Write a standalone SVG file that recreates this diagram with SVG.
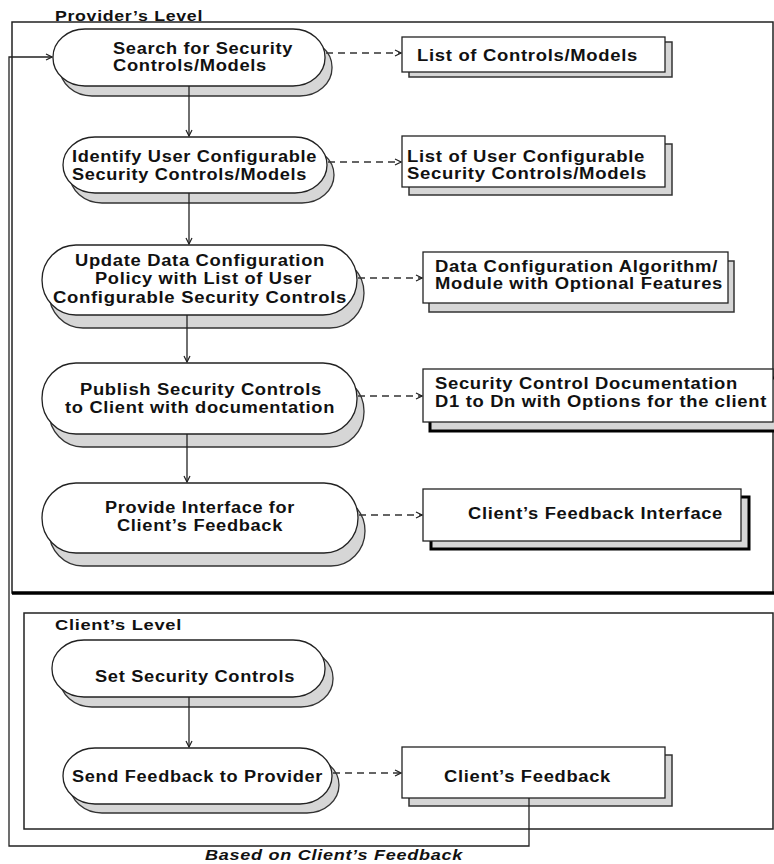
<svg xmlns="http://www.w3.org/2000/svg" width="774" height="864" viewBox="0 0 774 864">
<defs>
<style>
text{font-family:"Liberation Sans",Arial,sans-serif;font-weight:bold;font-size:16px;fill:#111;letter-spacing:0.6px}
.title{font-size:15.5px}
.cap{font-size:15.5px;font-style:italic}
.pill{fill:#fff;stroke:#222;stroke-width:1.3}
.pshadow{fill:#d6d6d6;stroke:#333;stroke-width:1.3}
.box{fill:#fff;stroke:#222;stroke-width:1.3}
.bshadow{fill:#d6d6d6;stroke:#333;stroke-width:1.5}
.bshadow2{fill:#d6d6d6;stroke:#000;stroke-width:3}
.solid{fill:none;stroke:#222;stroke-width:1.3;marker-end:url(#arr)}
.dash{fill:none;stroke:#333;stroke-width:1.3;stroke-dasharray:7,5;marker-end:url(#arr)}
.frame{fill:none;stroke:#222;stroke-width:1.5}
</style>
<marker id="arr" viewBox="0 0 8 8" refX="7" refY="4" markerWidth="8" markerHeight="8" markerUnits="userSpaceOnUse" orient="auto">
<path d="M1,1 L7,4 L1,7" fill="none" stroke="#222" stroke-width="1.2"/>
</marker>
</defs>
<rect width="774" height="864" fill="#fff"/>

<g id="frames">
<rect class="frame" x="12" y="22" width="761" height="571"/>
<line x1="12" y1="593" x2="774" y2="593" stroke="#000" stroke-width="3.5"/>
<rect class="frame" x="24" y="613" width="749" height="216"/>
<text class="title" x="55" y="21" textLength="148" lengthAdjust="spacingAndGlyphs">Provider’s Level</text>
<text class="title" x="55" y="630" textLength="127" lengthAdjust="spacingAndGlyphs">Client’s Level</text>
</g>

<g id="n1">
<rect class="pshadow" x="60" y="39" width="272" height="57" rx="32" ry="28"/>
<rect class="pill" x="53" y="29" width="272" height="57" rx="32" ry="28"/>
<text x="113" y="54" textLength="180" lengthAdjust="spacingAndGlyphs">Search for Security</text>
<text x="113" y="71" textLength="154" lengthAdjust="spacingAndGlyphs">Controls/Models</text>
</g>
<g id="n2">
<rect class="pshadow" x="70" y="147" width="264" height="56" rx="32" ry="28"/>
<rect class="pill" x="63" y="137" width="264" height="56" rx="32" ry="28"/>
<text x="72" y="162" textLength="245" lengthAdjust="spacingAndGlyphs">Identify User Configurable</text>
<text x="72" y="180" textLength="235" lengthAdjust="spacingAndGlyphs">Security Controls/Models</text>
</g>
<g id="n3">
<rect class="pshadow" x="49" y="258" width="315" height="70" rx="34" ry="35"/>
<rect class="pill" x="42" y="245" width="315" height="70" rx="34" ry="35"/>
<text x="75" y="266" textLength="250" lengthAdjust="spacingAndGlyphs">Update Data Configuration</text>
<text x="95" y="284" textLength="217" lengthAdjust="spacingAndGlyphs">Policy with List of User</text>
<text x="53" y="303" textLength="294" lengthAdjust="spacingAndGlyphs">Configurable Security Controls</text>
</g>
<g id="n4">
<rect class="pshadow" x="49" y="376" width="315" height="71" rx="34" ry="35"/>
<rect class="pill" x="42" y="363" width="315" height="71" rx="34" ry="35"/>
<text x="80" y="395" textLength="242" lengthAdjust="spacingAndGlyphs">Publish Security Controls</text>
<text x="65" y="413" textLength="270" lengthAdjust="spacingAndGlyphs">to Client with documentation</text>
</g>
<g id="n5">
<rect class="pshadow" x="49" y="496" width="316" height="70" rx="34" ry="35"/>
<rect class="pill" x="42" y="483" width="316" height="70" rx="34" ry="35"/>
<text x="105" y="513" textLength="190" lengthAdjust="spacingAndGlyphs">Provide Interface for</text>
<text x="117" y="531" textLength="166" lengthAdjust="spacingAndGlyphs">Client’s Feedback</text>
</g>
<g id="n6">
<rect class="pshadow" x="60" y="650" width="273" height="57" rx="32" ry="28"/>
<rect class="pill" x="52" y="640" width="273" height="57" rx="32" ry="28"/>
<text x="95" y="682" textLength="200" lengthAdjust="spacingAndGlyphs">Set Security Controls</text>
</g>
<g id="n7">
<rect class="pshadow" x="70" y="757" width="269" height="56" rx="32" ry="28"/>
<rect class="pill" x="63" y="748" width="269" height="56" rx="32" ry="28"/>
<text x="72" y="782" textLength="251" lengthAdjust="spacingAndGlyphs">Send Feedback to Provider</text>
</g>

<g id="bA">
<rect class="bshadow" x="409" y="42" width="263" height="35"/>
<rect class="box" x="402" y="37" width="263" height="35"/>
<text x="417" y="61" textLength="221" lengthAdjust="spacingAndGlyphs">List of Controls/Models</text>
</g>
<g id="bB">
<rect class="bshadow" x="409" y="144" width="263" height="51"/>
<rect class="box" x="402" y="136" width="263" height="51"/>
<text x="407" y="162" textLength="238" lengthAdjust="spacingAndGlyphs">List of User Configurable</text>
<text x="407" y="179" textLength="240" lengthAdjust="spacingAndGlyphs">Security Controls/Models</text>
</g>
<g id="bC">
<rect class="bshadow" x="429" y="261" width="305" height="51"/>
<rect class="box" x="423" y="252" width="305" height="51"/>
<text x="435" y="272" textLength="283" lengthAdjust="spacingAndGlyphs">Data Configuration Algorithm/</text>
<text x="435" y="289" textLength="288" lengthAdjust="spacingAndGlyphs">Module with Optional Features</text>
</g>
<g id="bD">
<rect class="bshadow2" x="430" y="378" width="350" height="53"/>
<rect class="box" x="423" y="369" width="350" height="53"/>
<text x="435" y="389" textLength="303" lengthAdjust="spacingAndGlyphs">Security Control Documentation</text>
<text x="435" y="407" textLength="332" lengthAdjust="spacingAndGlyphs">D1 to Dn with Options for the client</text>
</g>
<g id="bE">
<rect class="bshadow2" x="431" y="497" width="318" height="52"/>
<rect class="box" x="423" y="489" width="318" height="52"/>
<text x="468" y="519" textLength="255" lengthAdjust="spacingAndGlyphs">Client’s Feedback Interface</text>
</g>
<g id="bF">
<rect class="bshadow" x="409" y="755" width="263" height="51"/>
<rect class="box" x="402" y="747" width="263" height="51"/>
<text x="444" y="782" textLength="167" lengthAdjust="spacingAndGlyphs">Client’s Feedback</text>
</g>

<g id="connectors">
<line class="solid" x1="189" y1="86" x2="189" y2="136"/>
<line class="solid" x1="189" y1="193" x2="189" y2="244"/>
<line class="solid" x1="187" y1="315" x2="187" y2="362"/>
<line class="solid" x1="187" y1="434" x2="187" y2="482"/>
<line class="solid" x1="189" y1="697" x2="189" y2="747"/>
<line class="dash" x1="326" y1="53" x2="401" y2="53"/>
<line class="dash" x1="328" y1="162" x2="401" y2="162"/>
<line class="dash" x1="358" y1="278" x2="422" y2="278"/>
<line class="dash" x1="358" y1="396" x2="422" y2="396"/>
<line class="dash" x1="359" y1="515" x2="422" y2="515"/>
<line class="dash" x1="333" y1="773" x2="401" y2="773"/>
<polyline class="solid" points="529,798 529,846 9,846 9,57 52,57"/>
</g>
<text class="cap" x="205" y="860" textLength="258" lengthAdjust="spacingAndGlyphs">Based on Client’s Feedback</text>
</svg>
